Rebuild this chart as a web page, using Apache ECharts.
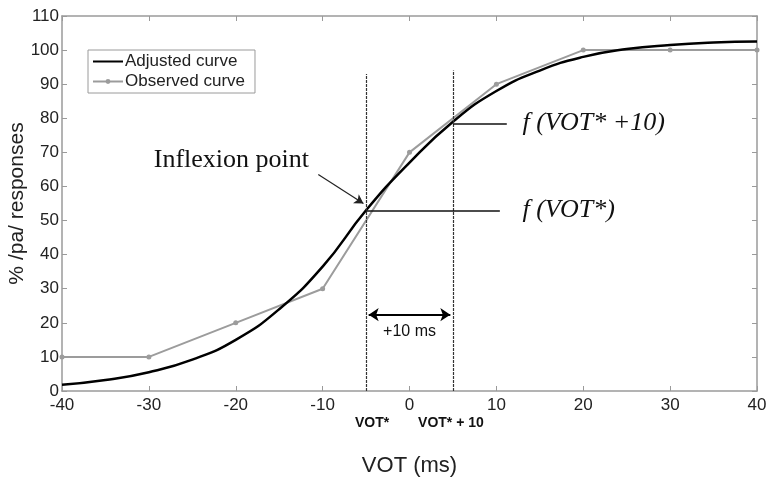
<!DOCTYPE html>
<html>
<head>
<meta charset="utf-8">
<script src="https://cdn.jsdelivr.net/npm/echarts@6/dist/echarts.min.js"></script>
<style>
  html, body { margin: 0; padding: 0; background: #fff; }
  #main { width: 766px; height: 478px; }
</style>
</head>
<body>
<div id="main"></div>
<script>
// Observed curve (% /pa/ responses per VOT step)
const obsVot = [-40, -30, -20, -10, 0, 10, 20, 30, 40];
const obsPct = [10, 10, 20, 30, 70, 90, 100, 100, 100];

// Adjusted (fitted) curve, every 5 ms
const adjVot = [-40, -35, -30, -25, -20, -15, -10, -5, 0, 5, 10, 15, 20, 25, 30, 35, 40];
const adjPct = [1.8, 3.2, 5.5, 9.2, 15, 24, 36.5, 53, 67, 79, 88, 94, 98, 100.3, 101.5, 102.2, 102.5];

// Annotation anchors (data units)
const votStar = -5;
const votStar10 = 5;
const fVotStar = 53;
const fVotStar10 = 78.5;
const guideTop = 93;
const arrowY = 22.4;

let chart = echarts.init(document.getElementById('main'));

const pairs = (xs, ys) => xs.map((x, i) => [x, ys[i]]);
const axisGray = '#9a9a9a';
const txt = '#222';

// shared look for the box axes (matlab style, ticks inside)
const boxAxis = {
    axisLine: { show: true, onZero: false, lineStyle: { color: axisGray, width: 1.5 } },
    axisTick: { show: true, inside: true, length: 5, lineStyle: { color: axisGray } },
    splitLine: { show: false }
};

let option = {
    animation: false,
    grid: { left: 62, right: 9, top: 16, bottom: 87, outerBoundsMode: 'none' },
    legend: {
        orient: 'vertical',
        left: 88,
        top: 50,
        padding: [3, 10, 3, 4],
        itemGap: 3,
        itemWidth: 30,
        itemHeight: 6,
        borderColor: axisGray,
        borderWidth: 1,
        backgroundColor: '#fff',
        textStyle: { fontFamily: 'Liberation Sans', fontSize: 17, color: txt, padding: [0, 0, 0, -3] },
        data: [
            { name: 'Adjusted curve', itemStyle: { opacity: 0 } },
            { name: 'Observed curve' }
        ]
    },
    xAxis: [
        Object.assign({
            type: 'value', min: -40, max: 40, interval: 10,
            name: 'VOT (ms)', nameLocation: 'middle', nameGap: 64,
            nameTextStyle: { fontFamily: 'Liberation Sans', fontSize: 22, color: txt },
            axisLabel: { fontFamily: 'Liberation Sans', fontSize: 17, color: txt, margin: 6 }
        }, boxAxis),
        Object.assign({
            type: 'value', min: -40, max: 40, interval: 10, position: 'top',
            axisLabel: { show: false }
        }, boxAxis)
    ],
    yAxis: [
        Object.assign({
            type: 'value', min: 0, max: 110, interval: 10,
            name: '% /pa/ responses', nameLocation: 'middle', nameGap: 34, nameMoveOverlap: false,
            nameTextStyle: { fontFamily: 'Liberation Sans', fontSize: 21, color: txt },
            axisLabel: { fontFamily: 'Liberation Sans', fontSize: 17, color: txt, margin: 3 }
        }, boxAxis),
        Object.assign({
            type: 'value', min: 0, max: 110, interval: 10, position: 'right',
            axisLabel: { show: false }
        }, boxAxis)
    ],
    series: [
        {
            name: 'Observed curve',
            type: 'line',
            data: pairs(obsVot, obsPct),
            symbol: 'circle',
            symbolSize: 5,
            itemStyle: { color: '#9c9c9c' },
            lineStyle: { color: '#9c9c9c', width: 2 },
            z: 2
        },
        {
            name: 'Adjusted curve',
            type: 'line',
            data: pairs(adjVot, adjPct),
            smooth: true,
            symbol: 'none',
            itemStyle: { color: '#000' },
            lineStyle: { color: '#000', width: 2.5 },
            z: 3,
            markLine: {
                silent: true,
                symbol: 'none',
                symbolSize: [10, 10],
                label: { show: false },
                lineStyle: { color: '#333', width: 1, type: 'solid' },
                data: [
                    [{ coord: [votStar, 0], lineStyle: { type: [3, 1], color: '#333', width: 1.2 } }, { coord: [votStar, guideTop] }],
                    [{ coord: [votStar10, 0], lineStyle: { type: [3, 1], color: '#333', width: 1.2 } }, { coord: [votStar10, guideTop + 1] }],
                    [{ coord: [votStar, fVotStar], lineStyle: { color: '#111', width: 1.5 } }, { coord: [10.4, fVotStar] }],
                    [{ coord: [votStar10, fVotStar10], lineStyle: { color: '#111', width: 1.5 } }, { coord: [11.2, fVotStar10] }],
                    [{ coord: [votStar + 0.3, arrowY], symbol: 'arrow', lineStyle: { color: '#000', width: 2 } },
                     { coord: [votStar10 - 0.3, arrowY], symbol: 'arrow' }],
                    [{ coord: [-10.5, 63.5], symbol: 'none', lineStyle: { color: '#222', width: 1.2 } },
                     { coord: [-5.3, 55], symbol: 'arrow', symbolSize: [8, 9] }]
                ]
            }
        }
    ]
};

chart.setOption(option);

// text annotations placed through the chart's own scales
const px = (x, y) => chart.convertToPixel({ xAxisIndex: 0, yAxisIndex: 0 }, [x, y]);
const serif = { fontFamily: 'Liberation Serif', fontStyle: 'italic', fontSize: 26, fill: '#111' };
const p1 = px(13, fVotStar10);
const p2 = px(13, fVotStar);
const p3 = px(-20.5, 67.6);
const p4 = px(0, arrowY);
const p5 = px(votStar, 0);
const p6 = px(votStar10, 0);

chart.setOption({
    graphic: [
        { type: 'text', x: p1[0], y: p1[1], style: Object.assign({ text: 'f (VOT* +10)', verticalAlign: 'middle' }, serif) },
        { type: 'text', x: p2[0], y: p2[1], style: Object.assign({ text: 'f (VOT*)', verticalAlign: 'middle' }, serif) },
        { type: 'text', x: p3[0], y: p3[1], style: { text: 'Inflexion point', fontFamily: 'Liberation Serif', fontSize: 26, fill: '#111', align: 'center', verticalAlign: 'middle' } },
        { type: 'text', x: p4[0], y: p4[1] + 17, style: { text: '+10 ms', fontFamily: 'Liberation Sans', fontSize: 16, fill: '#111', align: 'center', verticalAlign: 'middle' } },
        { type: 'text', x: p5[0] + 6, y: p5[1] + 32, style: { text: 'VOT*', fontFamily: 'Liberation Sans', fontWeight: 'bold', fontSize: 14, fill: '#111', align: 'center', verticalAlign: 'middle' } },
        { type: 'text', x: p6[0] - 2, y: p6[1] + 32, style: { text: 'VOT* + 10', fontFamily: 'Liberation Sans', fontWeight: 'bold', fontSize: 14, fill: '#111', align: 'center', verticalAlign: 'middle' } }
    ]
});
</script>
</body>
</html>
